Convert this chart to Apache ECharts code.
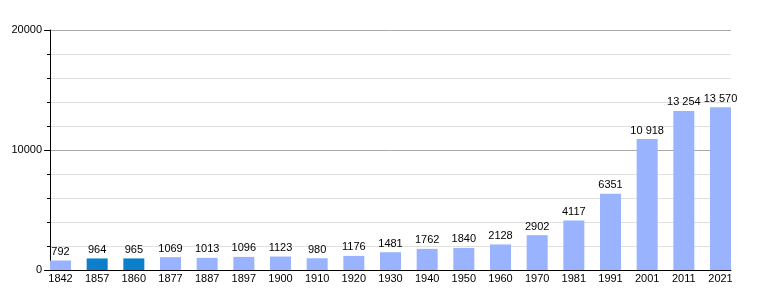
<!DOCTYPE html>
<html><head><meta charset="utf-8">
<script src="https://cdn.jsdelivr.net/npm/echarts@6/dist/echarts.min.js"></script>
<style>html,body{margin:0;padding:0;background:#fff}#c{width:760px;height:300px}</style>
</head><body><div id="c"></div>
<script>
const years = ['1842','1857','1860','1877','1887','1897','1900','1910','1920','1930','1940','1950','1960','1970','1981','1991','2001','2011','2021'];
const population = [792,964,965,1069,1013,1096,1123,980,1176,1481,1762,1840,2128,2902,4117,6351,10918,13254,13570];
const highlighted = ['1857','1860'];
const yTicks = [0,10000,20000];

const light = '#99b3ff', dark = '#0b7fcc';
const font = 'Liberation Sans, Arial, sans-serif';
function fmt(v){ return v >= 10000 ? String(v).replace(/\B(?=(\d{3})+(?!\d))/g, ' ') : String(v); }

const chart = echarts.init(document.getElementById('c'), null, {renderer:'canvas'});
chart.setOption({
  animation:false,
  grid:[
    {left:50, right:29, top:30, bottom:30},
    {left:60.5, right:39.5, top:30, bottom:30}
  ],
  xAxis:[
    {gridIndex:0, type:'value', min:0, max:1, axisLine:{show:true,onZero:false,lineStyle:{color:'#000',width:1}},
     axisTick:{show:false}, axisLabel:{show:false}, splitLine:{show:false}},
    {gridIndex:1, type:'category', data:years, boundaryGap:false,
     axisLine:{show:false}, axisTick:{show:false},
     axisLabel:{interval:0, margin:3, color:'#000', fontSize:11, fontFamily:font}}
  ],
  yAxis:[
    {gridIndex:0, type:'value', min:yTicks[0], max:yTicks[yTicks.length-1], interval:10000,
     axisLine:{show:true,lineStyle:{color:'#000',width:1}},
     axisTick:{show:true,length:6,lineStyle:{color:'#000'}},
     minorTick:{show:true,splitNumber:5,length:3,lineStyle:{color:'#000'}},
     axisLabel:{margin:8, color:'#000', fontSize:11, fontFamily:font, formatter:v=>String(v)},
     splitLine:{show:true,lineStyle:{color:'#aaaaaa',width:1}},
     minorSplitLine:{show:true,lineStyle:{color:'#e0e0e0',width:1}}},
    {gridIndex:1, type:'value', min:yTicks[0], max:yTicks[yTicks.length-1], show:false, splitLine:{show:false}}
  ],
  series:[{
    type:'bar', xAxisIndex:1, yAxisIndex:1, clip:false, barWidth:21,
    data: population.map((v,i)=>({value:v, itemStyle:{color: highlighted.includes(years[i]) ? dark : light}})),
    label:{show:true, position:'top', distance:3, color:'#000', fontSize:11, fontFamily:font,
      formatter:p=>fmt(p.value)}
  }]
});
</script></body></html>
